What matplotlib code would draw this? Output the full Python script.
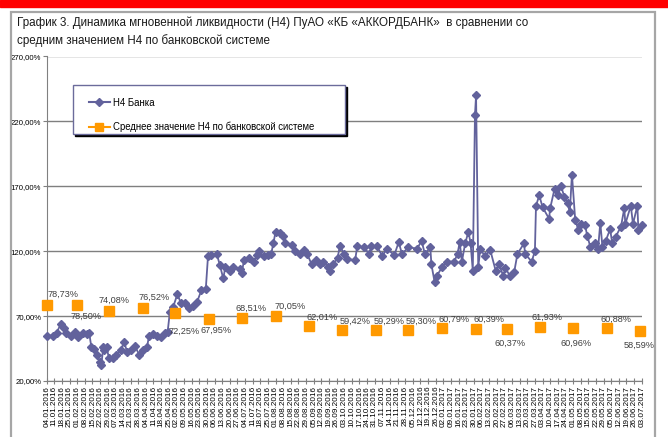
import matplotlib
matplotlib.use('Agg')
import matplotlib.pyplot as plt
import pandas as pd
from matplotlib.lines import Line2D
from matplotlib.patches import Rectangle
from matplotlib.ticker import FuncFormatter

plt.rcParams['font.family'] = ['Liberation Sans', 'DejaVu Sans']

title_1 = 'График 3. Динамика мгновенной ликвидности (Н4) ПуАО «КБ «АККОРДБАНК»  в сравнении со'
title_2 = 'средним значением Н4 по банковской системе'
bank_name = 'Н4 Банка'
avg_name = 'Среднее значение Н4 по банковской системе'

# ── data ─────────────────────────────────────────────────────────────
start = pd.Timestamp('2016-01-04')
end = pd.Timestamp('2017-07-03')

# days since 04.01.2016 and H4 of the bank, %
bank_days = [0, 6, 9, 13, 16, 18, 22, 26, 29, 33, 37, 39, 41, 43, 46, 49, 50, 52, 53, 55,
             57, 61, 64, 68, 71, 74, 77, 81, 85, 88, 92, 94, 98, 101, 105, 109, 111, 113, 116, 120,
             123, 127, 131, 134, 138, 142, 146, 148, 151, 156, 159, 162, 164, 168, 171, 177, 179, 181, 186, 190,
             193, 195, 199, 203, 206, 208, 210, 214, 217, 219, 225, 228, 232, 236, 239, 243, 247, 251, 254, 258,
             260, 263, 267, 269, 273, 276, 283, 285, 291, 296, 298, 303, 308, 312, 319, 323, 326, 332, 340, 344,
             347, 352, 353, 356, 358, 363, 367, 374, 377, 379, 381, 384, 387, 389, 391, 393, 394, 396, 398, 402,
             407, 412, 415, 419, 421, 425, 429, 432, 438, 439, 445, 448, 449, 452, 455, 461, 462, 466, 469, 472,
             475, 478, 480, 482, 485, 488, 490, 494, 496, 499, 503, 506, 508, 510, 513, 517, 519, 522, 527, 530,
             531, 536, 538, 542, 543, 546]
bank_h4 = [55, 55, 57, 64, 61, 57, 55, 58, 54, 57, 56, 57, 46, 45, 40, 35, 32, 46, 44, 46,
           38, 38, 40, 44, 50, 42, 44, 47, 40, 44, 46, 55, 56, 55, 54, 57, 58, 73, 77, 87,
           80, 80, 76, 78, 81, 90, 91, 116, 117, 118, 109, 99, 108, 105, 108, 106, 103, 113, 115, 112,
           117, 120, 116, 117, 118, 126, 135, 134, 132, 126, 125, 120, 118, 121, 118, 110, 113, 110, 112, 108,
           105, 110, 115, 124, 118, 114, 113, 124, 123, 118, 124, 124, 116, 122, 117, 127, 118, 123, 122, 128,
           118, 123, 110, 96, 101, 108, 112, 112, 118, 127, 112, 126, 135, 126, 105, 225, 240, 108, 122, 116,
           121, 105, 110, 101, 107, 101, 104, 118, 126, 118, 112, 120, 155, 163, 154, 145, 153, 168, 163, 170,
           162, 157, 150, 179, 144, 136, 141, 140, 132, 123, 126, 122, 142, 123, 128, 137, 126, 131, 139, 153,
           141, 155, 141, 155, 136, 140]

avg_dates = ['2016-01-04', '2016-02-01', '2016-03-01', '2016-04-01', '2016-05-01', '2016-06-01',
             '2016-07-01', '2016-08-01', '2016-09-01', '2016-10-01', '2016-11-01', '2016-12-01',
             '2017-01-01', '2017-02-01', '2017-03-01', '2017-04-01', '2017-05-01', '2017-06-01',
             '2017-07-01']
avg_h4 = [78.73, 78.50, 74.08, 76.52, 72.25, 67.95, 68.51, 70.05, 62.01, 59.42, 59.29, 59.30,
          60.79, 60.39, 60.37, 61.93, 60.96, 60.88, 58.59]

# label offsets in pixels (dx, dy)
label_dx = [16, 9, 5, 12, 9, 7, 9, 15, 13, 13, 13, 13, 12, 13, 3, 7, 3, 9, 0]
label_dy = [10, -11, 10, 10, -18, -12, 10, 10, 9, 9, 9, 9, 9, 9, -15, 9, -15, 9, -14]

bank_dates = start + pd.to_timedelta(bank_days, unit='D')
avg_dates = pd.to_datetime(avg_dates)

BLUE = '#62629C'
ORANGE = '#FF9900'

fig = plt.figure(figsize=(6.68, 4.37), dpi=100)
W, H = 668, 437

# red band and grey frame
fig.patches.append(Rectangle((0, 1 - 7 / H), 1, 7 / H, transform=fig.transFigure,
                             color='#FF0000', zorder=0))
fig.patches.append(Rectangle((11 / W, -0.02), (655 - 11) / W, (437 - 12) / H + 0.02,
                             transform=fig.transFigure, fill=False,
                             edgecolor='#A6A6A6', lw=1.6, zorder=0))

fig.text(17 / W, 1 - 23 / H, title_1, fontsize=8.4, va='center', color='#1a1a1a')
fig.text(17 / W, 1 - 41 / H, title_2, fontsize=8.4, va='center', color='#1a1a1a')

ax = fig.add_axes([46.7 / W, 56 / H, 595 / W, 324.5 / H])
ax.plot(bank_dates, bank_h4, color=BLUE, lw=1.3, marker='D', ms=3.6, zorder=3, clip_on=False)
ax.plot(avg_dates, avg_h4, ls='none', marker='s', ms=7.5, color=ORANGE, zorder=4, clip_on=False)

for d, v, dx, dy in zip(avg_dates, avg_h4, label_dx, label_dy):
    ax.annotate(f'{v:.2f}'.replace('.', ',') + '%', (d, v), xytext=(dx, dy),
                textcoords='offset pixels', ha='center', va='center',
                fontsize=6.6, color='#404040')

ax.set_ylim(20, 270)
ax.set_yticks(range(20, 271, 50))
ax.yaxis.set_major_formatter(FuncFormatter(lambda v, p: f'{v:.2f}'.replace('.', ',') + '%'))
ax.set_xlim(start, end)
xt = pd.date_range(start, end, freq='7D')
ax.set_xticks(xt)
ax.set_xticklabels([d.strftime('%d.%m.%Y') for d in xt], rotation=90, fontsize=5.9)
ax.tick_params(axis='y', labelsize=5.6, length=3, color='#808080', pad=1)
ax.tick_params(axis='x', direction='inout', length=5, color='#808080', pad=1)
ax.grid(axis='y', color='#7F7F7F', lw=1)
ax.set_axisbelow(True)
for s in ['top', 'right']:
    ax.spines[s].set_visible(False)
for s in ['left', 'bottom']:
    ax.spines[s].set_color('#808080')

# legend box with shadow
lx0, lx1, ly0, ly1 = 72.7, 345, 85, 134
fig.patches.append(Rectangle(((lx0 + 2) / W, 1 - (ly1 + 2) / H), (lx1 - lx0) / W, (ly1 - ly0) / H,
                             transform=fig.transFigure, color='black', zorder=4))
fig.patches.append(Rectangle((lx0 / W, 1 - ly1 / H), (lx1 - lx0) / W, (ly1 - ly0) / H,
                             transform=fig.transFigure, facecolor='white',
                             edgecolor='#6B6B9B', lw=1, zorder=4.5))
handles = [Line2D([], [], color=BLUE, lw=1.5, marker='D', ms=4),
           Line2D([], [], color=ORANGE, lw=1.5, marker='s', ms=6)]
fig.legend(handles, [bank_name, avg_name], loc='upper left',
           bbox_to_anchor=(80 / W, 1 - 89 / H), frameon=False, fontsize=6.9,
           handlelength=2.2, handletextpad=0.3, labelspacing=1.5).set_zorder(6)

plt.savefig('out.png', dpi=100)
plt.close()
print("Saved out.png")
